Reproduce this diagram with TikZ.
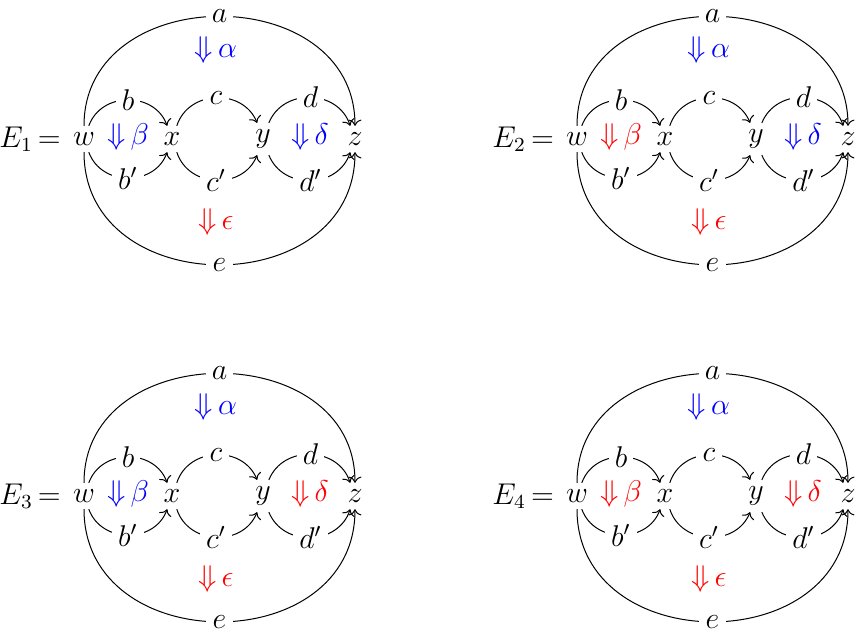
\documentclass[tikz,border=0pt]{standalone}
\usepackage{amsmath,amssymb}
\usetikzlibrary{arrows.meta,positioning}

\begin{document}
\begin{tikzpicture}[
    x=0.4pt, y=-0.4pt,
    font=\fontsize{11.5}{14}\selectfont,
    obj/.style={inner sep=2.5pt},
    lbl/.style={fill=white, inner sep=2.5pt},
    mor/.style={-{Computer Modern Rightarrow}, thin},
    cell/.style={inner sep=1pt}
  ]
  \useasboundingbox (0,0) rectangle (856,641);
  % four composites E_1..E_4, colours of beta and delta vary
  \foreach \n/\dx/\dy/\cb/\cd in {1/0/0/blue/blue, 2/493/0/red/blue,
                                  3/0/357/blue/red, 4/493/357/red/red}{
    \begin{scope}[shift={(\dx,\dy)}]
      % objects
      \node[obj] (w\n) at (84,139)  {$w$};
      \node[obj] (x\n) at (172,139) {$x$};
      \node[obj] (y\n) at (263,139) {$y$};
      \node[obj] (z\n) at (355,139) {$z$};
      \node[anchor=east, inner sep=0pt] (eq\n) at (w\n.west) {$E_{\n}\,{=}\,$};
      % outer 1-cells
      \draw[mor] (w\n) to[out=90, in=90, looseness=1.38] node[lbl]{$a$} (z\n);
      \draw[mor] (w\n) to[out=-90, in=-90, looseness=1.42] node[lbl]{$e$} (z\n);
      % inner 1-cells
      \draw[mor] (w\n) to[bend left=70, looseness=1.2]  node[lbl]{$b$}  (x\n);
      \draw[mor] (w\n) to[bend right=70, looseness=1.2] node[lbl]{$b'$} (x\n);
      \draw[mor] (x\n) to[bend left=70, looseness=1.2]  node[lbl]{$c$}  (y\n);
      \draw[mor] (x\n) to[bend right=70, looseness=1.2] node[lbl]{$c'$} (y\n);
      \draw[mor] (y\n) to[bend left=70, looseness=1.2]  node[lbl]{$d$}  (z\n);
      \draw[mor] (y\n) to[bend right=70, looseness=1.2] node[lbl]{$d'$} (z\n);
      % 2-cells
      \node[cell, text=blue] (al\n) at (216,50)  {${\Downarrow}\,\alpha$};
      \node[cell, text=\cb]  (be\n) at (128,137) {${\Downarrow}\,\beta$};
      \node[cell, text=\cd]  (de\n) at (310,137) {${\Downarrow}\,\delta$};
      \node[cell, text=red]  (ep\n) at (216,222) {${\Downarrow}\,\epsilon$};
    \end{scope}
  }
\end{tikzpicture}
\end{document}
